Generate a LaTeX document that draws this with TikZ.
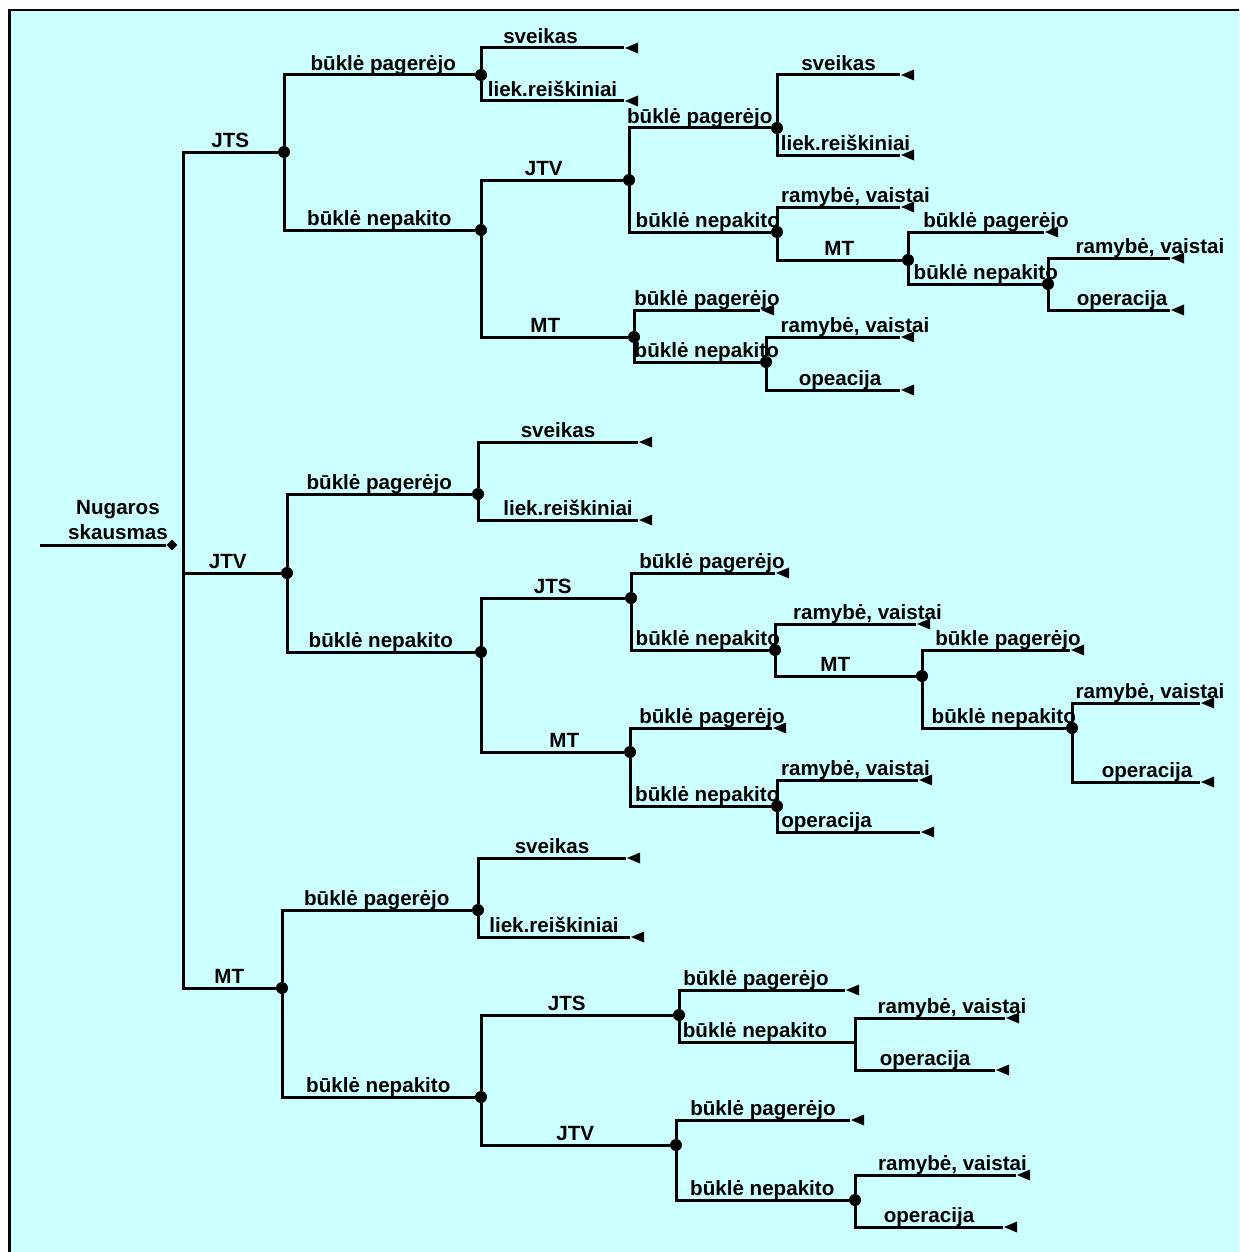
\documentclass[tikz,border=0pt]{standalone}
\usepackage{fontspec}
\setmainfont{Liberation Sans}
\usetikzlibrary{shapes.geometric}
\definecolor{panel}{RGB}{204,255,255}
\tikzset{
  edge/.style={line width=1.5pt},
  lbl/.style={pos=0.75, anchor=base, yshift=2.2pt, inner sep=0pt,
    font=\bfseries\fontsize{10.3}{12}\selectfont},
  chance/.style={circle, fill=black, inner sep=0pt, minimum size=6pt},
  term/.style={isosceles triangle, shape border rotate=180,
    isosceles triangle stretches, fill=black, inner sep=0pt,
    minimum width=5.5pt, minimum height=6.5pt, anchor=apex},
  choice/.style={diamond, fill=black, inner sep=0pt, minimum size=5.5pt},
  rootlbl/.style={align=center, inner sep=0pt,
    font=\bfseries\fontsize{10.3}{12.5}\selectfont}
}
% one branch of the tree: vertical from the parent, then horizontal to the child
\newcommand\tbranch[4][]{\draw[edge] (#2) |- node[lbl,#1]{#4} (#3);}
\begin{document}
\begin{tikzpicture}[x=0.5pt,y=-0.5pt]
\useasboundingbox (0,0) rectangle (1239,1252);
\begin{scope}
  \clip (0,0) rectangle (1239,1252);
  \draw[line width=1.3pt, fill=panel] (9.5,10) rectangle (1260,1270);
\end{scope}

% root decision
\coordinate (s0) at (40,545);
\node[choice] (root) at (172,545) {};
\coordinate (bus) at (183,545);
\node[rootlbl] (rl) at (118,520) {Nugaros\\skausmas};
\draw[edge] (s0) -- (root);

% first-level chance nodes
\node[chance] (c1) at (284,152) {};
\node[chance] (c2) at (287,573) {};
\node[chance] (c3) at (282,988) {};

% JTS subtree
\node[chance] (c11) at (481,75) {};
\node[chance] (c12) at (481,230) {};
\node[term] (t111) at (624,48) {};
\node[term] (t112) at (624,101) {};
\node[chance] (c121) at (629,180) {};
\node[chance] (c122) at (634,337) {};
\node[chance] (c1211) at (777,128) {};
\node[chance] (c1212) at (777,232) {};
\node[term] (t12111) at (900,75) {};
\node[term] (t12112) at (900,155) {};
\node[term] (t12121) at (900,207) {};
\node[chance] (c12122) at (908,260) {};
\node[term] (t121221) at (1044,232) {};
\node[chance] (c121222) at (1048,284) {};
\node[term] (t1212221) at (1170,258) {};
\node[term] (t1212222) at (1170,310) {};
\node[term] (t1221) at (760,310) {};
\node[chance] (c1222) at (766,362) {};
\node[term] (t12221) at (900,337) {};
\node[term] (t12222) at (900,390) {};

% JTV subtree
\node[chance] (c21) at (478,494) {};
\node[chance] (c22) at (481,652) {};
\node[term] (t211) at (638,442) {};
\node[term] (t212) at (638,520) {};
\node[chance] (c221) at (631,598) {};
\node[chance] (c222) at (630,752) {};
\node[term] (t2211) at (775,573) {};
\node[chance] (c2212) at (775,650) {};
\node[term] (t22121) at (916,624) {};
\node[chance] (c22122) at (922,676) {};
\node[term] (t221221) at (1070,650) {};
\node[chance] (c221222) at (1072,728) {};
\node[term] (t2212221) at (1200,703) {};
\node[term] (t2212222) at (1200,782) {};
\node[term] (t2221) at (772,728) {};
\node[chance] (c2222) at (777,806) {};
\node[term] (t22221) at (918,780) {};
\node[term] (t22222) at (920,832) {};

% MT subtree
\node[chance] (c31) at (478,910) {};
\node[chance] (c32) at (481,1097) {};
\node[term] (t311) at (626,858) {};
\node[term] (t312) at (630,937) {};
\node[chance] (c321) at (679,1015) {};
\node[chance] (c322) at (676,1145) {};
\node[term] (t3211) at (845,990) {};
\coordinate (c3212) at (855,1042);
\node[term] (t32121) at (1005,1018) {};
\node[term] (t32122) at (995,1070) {};
\node[term] (t3221) at (850,1120) {};
\node[chance] (c3222) at (855,1200) {};
\node[term] (t32221) at (1016,1175) {};
\node[term] (t32222) at (1003,1227) {};

% branches from the root
\tbranch{bus}{c1}{JTS}
\tbranch[xshift=-2pt]{bus}{c2}{JTV}
\tbranch{bus}{c3}{MT}

% JTS branches
\tbranch[xshift=2pt]{c1}{c11}{būklė pagerėjo}
\tbranch{c1}{c12}{būklė nepakito}
\tbranch[xshift=-6pt]{c11}{t111.apex}{sveikas}
\tbranch{c11}{t112.apex}{liek.reiškiniai}
\tbranch[xshift=-4pt]{c12}{c121}{JTV}
\tbranch[xshift=-4.5pt]{c12}{c122}{MT}
\tbranch{c121}{c1211}{būklė pagerėjo}
\tbranch[xshift=4pt]{c121}{c1212}{būklė nepakito}
\tbranch{c1211}{t12111.apex}{sveikas}
\tbranch[xshift=3.5pt]{c1211}{t12112.apex}{liek.reiškiniai}
\tbranch[xshift=8.5pt]{c1212}{t12121.apex}{ramybė, vaistai}
\tbranch{c1212}{c12122}{MT}
\tbranch[xshift=10pt]{c12122}{t121221.apex}{būklė pagerėjo}
\tbranch[xshift=5.5pt]{c12122}{c121222}{būklė nepakito}
\tbranch[xshift=20.5pt]{c121222}{t1212221.apex}{ramybė, vaistai}
\tbranch[xshift=6.5pt]{c121222}{t1212222.apex}{operacija}
\tbranch[xshift=5pt]{c122}{t1221.apex}{būklė pagerėjo}
\tbranch[xshift=5pt]{c122}{c1222}{būklė nepakito}
\tbranch[xshift=11pt]{c1222}{t12221.apex}{ramybė, vaistai}
\tbranch[xshift=3.5pt]{c1222}{t12222.apex}{opeacija}

% JTV branches
\tbranch{c2}{c21}{būklė pagerėjo}
\tbranch{c2}{c22}{būklė nepakito}
\tbranch{c21}{t211.apex}{sveikas}
\tbranch[xshift=5pt]{c21}{t212.apex}{liek.reiškiniai}
\tbranch{c22}{c221}{JTS}
\tbranch[xshift=6pt]{c22}{c222}{MT}
\tbranch[xshift=4.5pt]{c221}{t2211.apex}{būklė pagerėjo}
\tbranch[xshift=4pt]{c221}{c2212}{būklė nepakito}
\tbranch[xshift=11pt]{c2212}{t22121.apex}{ramybė, vaistai}
\tbranch[xshift=-5pt]{c2212}{c22122}{MT}
\tbranch[xshift=6pt]{c22122}{t221221.apex}{būkle pagerėjo}
\tbranch[xshift=5pt]{c22122}{c221222}{būklė nepakito}
\tbranch[xshift=7pt]{c221222}{t2212221.apex}{ramybė, vaistai}
\tbranch[xshift=5.5pt]{c221222}{t2212222.apex}{operacija}
\tbranch[xshift=5.5pt]{c222}{t2221.apex}{būklė pagerėjo}
\tbranch[xshift=3.5pt]{c222}{c2222}{būklė nepakito}
\tbranch[xshift=4pt]{c2222}{t22221.apex}{ramybė, vaistai}
\tbranch[xshift=-11pt]{c2222}{t22222.apex}{operacija}

% MT branches
\tbranch{c3}{c31}{būklė pagerėjo}
\tbranch{c3}{c32}{būklė nepakito}
\tbranch{c31}{t311.apex}{sveikas}
\tbranch{c31}{t312.apex}{liek.reiškiniai}
\tbranch[xshift=-5pt]{c32}{c321}{JTS}
\tbranch{c32}{c322}{JTV}
\tbranch[xshift=-3pt]{c321}{t3211.apex}{būklė pagerėjo}
\tbranch[xshift=-6pt]{c321}{c3212}{būklė nepakito}
\tbranch[xshift=11pt]{c3212}{t32121.apex}{ramybė, vaistai}
\tbranch{c3212}{t32122.apex}{operacija}
\tbranch{c322}{t3221.apex}{būklė pagerėjo}
\tbranch{c322}{c3222}{būklė nepakito}
\tbranch[xshift=8.5pt]{c3222}{t32221.apex}{ramybė, vaistai}
\tbranch{c3222}{t32222.apex}{operacija}
\end{tikzpicture}
\end{document}
